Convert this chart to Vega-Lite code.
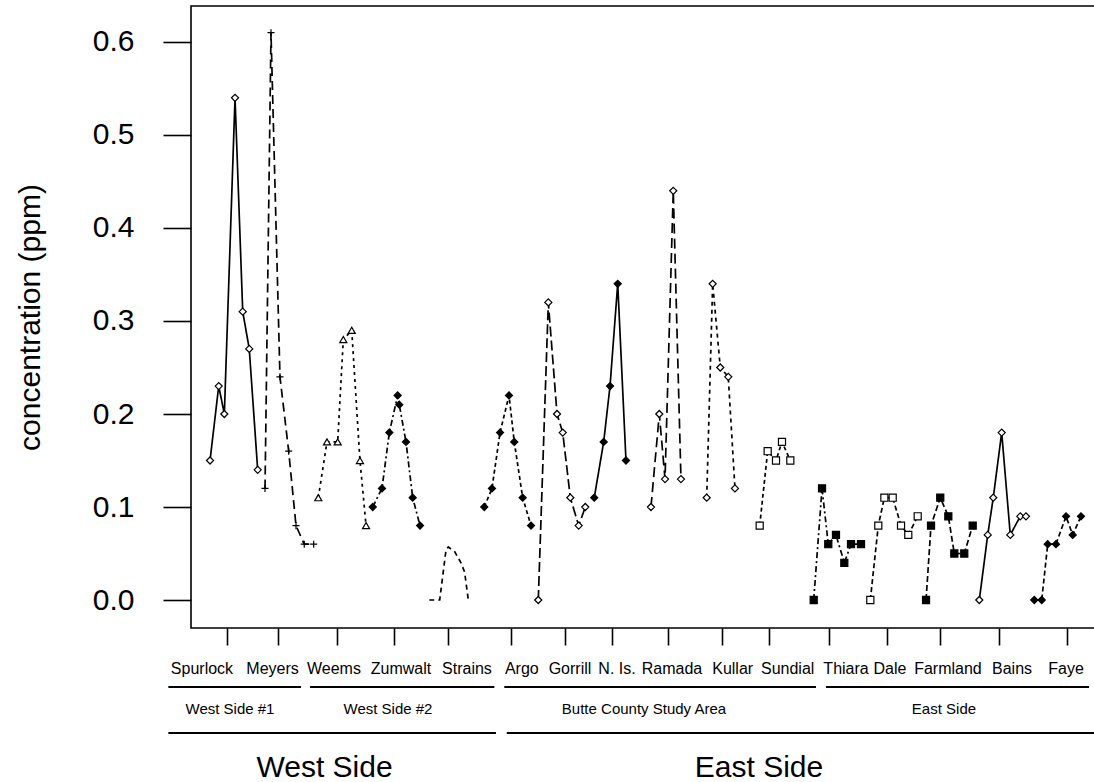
{
  "$schema": "https://vega.github.io/schema/vega-lite/v6.json",
  "autosize": {"type": "pad"},
  "padding": {"left": 14, "top": 5, "right": 0, "bottom": 0},
  "background": "white",
  "bounds": "flush",
  "spacing": 0,
  "config": {"font": "Liberation Sans", "view": {"stroke": null}},
  "datasets": {
    "obs": [
      {"site": "Spurlock", "x": 2.10, "conc": 0.15},
      {"site": "Spurlock", "x": 3.06, "conc": 0.23},
      {"site": "Spurlock", "x": 3.68, "conc": 0.20},
      {"site": "Spurlock", "x": 4.86, "conc": 0.54},
      {"site": "Spurlock", "x": 5.71, "conc": 0.31},
      {"site": "Spurlock", "x": 6.43, "conc": 0.27},
      {"site": "Spurlock", "x": 7.36, "conc": 0.14},
      {"site": "Meyers", "x": 8.17, "conc": 0.12},
      {"site": "Meyers", "x": 8.83, "conc": 0.61},
      {"site": "Meyers", "x": 9.82, "conc": 0.24},
      {"site": "Meyers", "x": 10.78, "conc": 0.16},
      {"site": "Meyers", "x": 11.59, "conc": 0.08},
      {"site": "Meyers", "x": 12.50, "conc": 0.06},
      {"site": "Meyers", "x": 13.54, "conc": 0.06},
      {"site": "Weems", "x": 14.05, "conc": 0.11},
      {"site": "Weems", "x": 15.01, "conc": 0.17},
      {"site": "Weems", "x": 16.19, "conc": 0.17},
      {"site": "Weems", "x": 16.81, "conc": 0.28},
      {"site": "Weems", "x": 17.74, "conc": 0.29},
      {"site": "Weems", "x": 18.65, "conc": 0.15},
      {"site": "Weems", "x": 19.32, "conc": 0.08},
      {"site": "Zumwalt", "x": 20.06, "conc": 0.10},
      {"site": "Zumwalt", "x": 21.08, "conc": 0.12},
      {"site": "Zumwalt", "x": 21.89, "conc": 0.18},
      {"site": "Zumwalt", "x": 22.81, "conc": 0.22},
      {"site": "Zumwalt", "x": 22.99, "conc": 0.21},
      {"site": "Zumwalt", "x": 23.73, "conc": 0.17},
      {"site": "Zumwalt", "x": 24.47, "conc": 0.11},
      {"site": "Zumwalt", "x": 25.28, "conc": 0.08},
      {"site": "Strains", "x": 26.30, "conc": 0.0},
      {"site": "Strains", "x": 27.45, "conc": 0.0},
      {"site": "Strains", "x": 28.15, "conc": 0.054},
      {"site": "Strains", "x": 28.40, "conc": 0.057},
      {"site": "Strains", "x": 29.10, "conc": 0.052},
      {"site": "Strains", "x": 29.80, "conc": 0.040},
      {"site": "Strains", "x": 30.20, "conc": 0.030},
      {"site": "Strains", "x": 30.61, "conc": 0.0},
      {"site": "Argo", "x": 32.37, "conc": 0.10},
      {"site": "Argo", "x": 33.22, "conc": 0.12},
      {"site": "Argo", "x": 34.11, "conc": 0.18},
      {"site": "Argo", "x": 35.10, "conc": 0.22},
      {"site": "Argo", "x": 35.68, "conc": 0.17},
      {"site": "Argo", "x": 36.61, "conc": 0.11},
      {"site": "Argo", "x": 37.53, "conc": 0.08},
      {"site": "Gorrill", "x": 38.33, "conc": 0.0},
      {"site": "Gorrill", "x": 39.44, "conc": 0.32},
      {"site": "Gorrill", "x": 40.40, "conc": 0.20},
      {"site": "Gorrill", "x": 41.03, "conc": 0.18},
      {"site": "Gorrill", "x": 41.87, "conc": 0.11},
      {"site": "Gorrill", "x": 42.79, "conc": 0.08},
      {"site": "Gorrill", "x": 43.52, "conc": 0.10},
      {"site": "N. Is.", "x": 44.51, "conc": 0.11},
      {"site": "N. Is.", "x": 45.55, "conc": 0.17},
      {"site": "N. Is.", "x": 46.25, "conc": 0.23},
      {"site": "N. Is.", "x": 47.10, "conc": 0.34},
      {"site": "N. Is.", "x": 48.01, "conc": 0.15},
      {"site": "Ramada", "x": 50.77, "conc": 0.10},
      {"site": "Ramada", "x": 51.69, "conc": 0.20},
      {"site": "Ramada", "x": 52.32, "conc": 0.13},
      {"site": "Ramada", "x": 53.23, "conc": 0.44},
      {"site": "Ramada", "x": 54.08, "conc": 0.13},
      {"site": "Kullar", "x": 56.92, "conc": 0.11},
      {"site": "Kullar", "x": 57.58, "conc": 0.34},
      {"site": "Kullar", "x": 58.42, "conc": 0.25},
      {"site": "Kullar", "x": 59.30, "conc": 0.24},
      {"site": "Kullar", "x": 60.04, "conc": 0.12},
      {"site": "Sundial", "x": 62.77, "conc": 0.08},
      {"site": "Sundial", "x": 63.65, "conc": 0.16},
      {"site": "Sundial", "x": 64.57, "conc": 0.15},
      {"site": "Sundial", "x": 65.23, "conc": 0.17},
      {"site": "Sundial", "x": 66.15, "conc": 0.15},
      {"site": "Thiara", "x": 68.73, "conc": 0.0},
      {"site": "Thiara", "x": 69.65, "conc": 0.12},
      {"site": "Thiara", "x": 70.34, "conc": 0.06},
      {"site": "Thiara", "x": 71.19, "conc": 0.07},
      {"site": "Thiara", "x": 72.11, "conc": 0.04},
      {"site": "Thiara", "x": 72.85, "conc": 0.06},
      {"site": "Thiara", "x": 73.95, "conc": 0.06},
      {"site": "Dale", "x": 74.98, "conc": 0.0},
      {"site": "Dale", "x": 75.86, "conc": 0.08},
      {"site": "Dale", "x": 76.53, "conc": 0.11},
      {"site": "Dale", "x": 77.45, "conc": 0.11},
      {"site": "Dale", "x": 78.37, "conc": 0.08},
      {"site": "Dale", "x": 79.17, "conc": 0.07},
      {"site": "Dale", "x": 80.21, "conc": 0.09},
      {"site": "Farmland", "x": 81.13, "conc": 0.0},
      {"site": "Farmland", "x": 81.68, "conc": 0.08},
      {"site": "Farmland", "x": 82.70, "conc": 0.11},
      {"site": "Farmland", "x": 83.59, "conc": 0.09},
      {"site": "Farmland", "x": 84.25, "conc": 0.05},
      {"site": "Farmland", "x": 85.35, "conc": 0.05},
      {"site": "Farmland", "x": 86.28, "conc": 0.08},
      {"site": "Bains", "x": 87.01, "conc": 0.0},
      {"site": "Bains", "x": 87.94, "conc": 0.07},
      {"site": "Bains", "x": 88.55, "conc": 0.11},
      {"site": "Bains", "x": 89.48, "conc": 0.18},
      {"site": "Bains", "x": 90.43, "conc": 0.07},
      {"site": "Bains", "x": 91.53, "conc": 0.09},
      {"site": "Bains", "x": 92.16, "conc": 0.09},
      {"site": "Faye", "x": 93.08, "conc": 0.0},
      {"site": "Faye", "x": 93.90, "conc": 0.0},
      {"site": "Faye", "x": 94.56, "conc": 0.06},
      {"site": "Faye", "x": 95.47, "conc": 0.06},
      {"site": "Faye", "x": 96.58, "conc": 0.09},
      {"site": "Faye", "x": 97.32, "conc": 0.07},
      {"site": "Faye", "x": 98.23, "conc": 0.09}
    ],
    "sites": [
      {"site": "Spurlock", "tick": 3.92, "label_x": 1.21},
      {"site": "Meyers", "tick": 9.60, "label_x": 9.00},
      {"site": "Weems", "tick": 16.11, "label_x": 15.78},
      {"site": "Zumwalt", "tick": 22.46, "label_x": 23.18},
      {"site": "Strains", "tick": 28.37, "label_x": 30.46},
      {"site": "Argo", "tick": 35.32, "label_x": 36.51},
      {"site": "Gorrill", "tick": 41.28, "label_x": 41.83},
      {"site": "N. Is.", "tick": 46.47, "label_x": 47.02},
      {"site": "Ramada", "tick": 52.70, "label_x": 53.09},
      {"site": "Kullar", "tick": 58.66, "label_x": 59.79},
      {"site": "Sundial", "tick": 63.85, "label_x": 65.86},
      {"site": "Thiara", "tick": 70.42, "label_x": 72.30},
      {"site": "Dale", "tick": 76.82, "label_x": 77.15},
      {"site": "Farmland", "tick": 82.67, "label_x": 83.55},
      {"site": "Bains", "tick": 89.18, "label_x": 90.62},
      {"site": "Faye", "tick": 96.69, "label_x": 96.58}
    ],
    "groups": [
      {"label": "West Side #1", "tier": "sub", "start": -2.50, "end": 12.14, "mid": 4.30},
      {"label": "West Side #2", "tier": "sub", "start": 13.13, "end": 33.48, "mid": 21.74},
      {"label": "Butte County Study Area", "tier": "sub", "start": 34.58, "end": 68.98, "mid": 50.0},
      {"label": "East Side", "tier": "sub", "start": 70.09, "end": 99.12, "mid": 83.11},
      {"label": "West Side", "tier": "region", "start": -2.50, "end": 33.66, "mid": 14.74},
      {"label": "East Side", "tier": "region", "start": 34.85, "end": 100.6, "mid": 62.69}
    ]
  },
  "vconcat": [
    {
      "width": 906,
      "height": 622,
      "view": {"stroke": "black", "strokeWidth": 1.6},
      "data": {"name": "obs"},
      "encoding": {
        "x": {
          "field": "x",
          "type": "quantitative",
          "scale": {"domain": [0, 100], "nice": false, "zero": false},
          "axis": {
            "values": [3.92, 9.60, 16.11, 22.46, 28.37, 35.32, 41.28, 46.47, 52.70, 58.66, 63.85, 70.42, 76.82, 82.67, 89.18, 96.69],
            "labels": false,
            "tickSize": 17,
            "tickWidth": 1.6,
            "tickColor": "black",
            "domain": false,
            "grid": false,
            "title": null
          }
        },
        "y": {
          "field": "conc",
          "type": "quantitative",
          "scale": {"domain": [-0.0301, 0.6387], "nice": false, "zero": false},
          "axis": {
            "values": [0, 0.1, 0.2, 0.3, 0.4, 0.5, 0.6],
            "format": ".1f",
            "labelFontSize": 30,
            "labelColor": "black",
            "labelPadding": 29,
            "tickSize": 28,
            "tickWidth": 1.6,
            "tickColor": "black",
            "domain": false,
            "grid": false,
            "title": "concentration (ppm)",
            "titleFontSize": 30,
            "titleFontWeight": "normal",
            "titleColor": "black",
            "titlePadding": 47
          }
        }
      },
      "layer": [
        {
          "mark": {"type": "line", "color": "black", "strokeWidth": 1.7},
          "encoding": {
            "strokeDash": {
              "field": "site",
              "type": "nominal",
              "scale": {
                "domain": ["Spurlock", "Meyers", "Weems", "Zumwalt", "Strains", "Argo", "Gorrill", "N. Is.", "Ramada", "Kullar", "Sundial", "Thiara", "Dale", "Farmland", "Bains", "Faye"],
                "range": [[1, 0], [9, 5], [3, 4], [6, 3, 2, 3], [5, 4], [4, 3], [10, 4], [1, 0], [10, 5], [4, 4], [4, 3], [6, 3, 2, 3], [5, 3], [6, 3], [1, 0], [5, 3]]
              },
              "legend": null
            }
          }
        },
        {
          "mark": {"type": "point", "filled": true, "stroke": "black", "strokeWidth": 1.2, "size": 50, "opacity": 1},
          "encoding": {
            "shape": {
              "field": "site",
              "type": "nominal",
              "scale": {
                "domain": ["Spurlock", "Meyers", "Weems", "Zumwalt", "Strains", "Argo", "Gorrill", "N. Is.", "Ramada", "Kullar", "Sundial", "Thiara", "Dale", "Farmland", "Bains", "Faye"],
                "range": ["diamond", "M-1,0L1,0M0,-1L0,1", "triangle-up", "diamond", "M0,0", "diamond", "diamond", "diamond", "diamond", "diamond", "square", "square", "square", "square", "diamond", "diamond"]
              },
              "legend": null
            },
            "fill": {
              "field": "site",
              "type": "nominal",
              "scale": {
                "domain": ["Spurlock", "Meyers", "Weems", "Zumwalt", "Strains", "Argo", "Gorrill", "N. Is.", "Ramada", "Kullar", "Sundial", "Thiara", "Dale", "Farmland", "Bains", "Faye"],
                "range": ["white", "black", "white", "black", "transparent", "black", "white", "black", "white", "white", "white", "black", "white", "black", "white", "black"]
              },
              "legend": null
            }
          }
        }
      ]
    },
    {
      "width": 906,
      "height": 138,
      "layer": [
        {
          "data": {"name": "groups"},
          "mark": {"type": "rule", "color": "black", "strokeWidth": 2},
          "encoding": {
            "x": {"field": "start", "type": "quantitative", "scale": {"domain": [0, 100], "nice": false, "zero": false}, "axis": null},
            "x2": {"field": "end"},
            "y": {"field": "tier", "type": "ordinal", "scale": {"type": "point", "domain": ["sub", "region"], "padding": 1, "align": 0.641}, "axis": null}
          }
        },
        {
          "data": {"name": "groups"},
          "transform": [{"filter": "datum.tier == 'sub'"}],
          "mark": {"type": "text", "fontSize": 15, "dy": 22, "baseline": "middle", "align": "center", "color": "black"},
          "encoding": {
            "x": {"field": "mid", "type": "quantitative"},
            "y": {"field": "tier", "type": "ordinal"},
            "text": {"field": "label"}
          }
        },
        {
          "data": {"name": "groups"},
          "transform": [{"filter": "datum.tier == 'region'"}],
          "mark": {"type": "text", "fontSize": 30, "dy": 35, "baseline": "middle", "align": "center", "color": "black"},
          "encoding": {
            "x": {"field": "mid", "type": "quantitative"},
            "y": {"field": "tier", "type": "ordinal"},
            "text": {"field": "label"}
          }
        },
        {
          "data": {"name": "sites"},
          "mark": {"type": "text", "fontSize": 16, "dy": -18, "baseline": "middle", "align": "center", "color": "black"},
          "encoding": {
            "x": {"field": "label_x", "type": "quantitative"},
            "y": {"datum": "sub", "type": "ordinal"},
            "text": {"field": "site"}
          }
        }
      ]
    }
  ]
}
